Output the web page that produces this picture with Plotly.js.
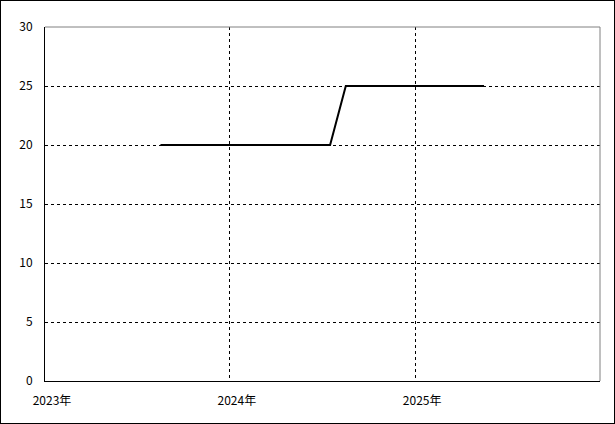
<!DOCTYPE html>
<html>
<head>
<meta charset="utf-8">
<script src="https://cdn.plot.ly/plotly-3.0.1.min.js"></script>
<style>
html,body{margin:0;padding:0;background:#fff;}
#wrap{position:relative;width:615px;height:424px;}
#chart{width:615px;height:424px;}
#frame{position:absolute;left:0;top:0;width:615px;height:424px;box-sizing:border-box;border:1px solid #000;pointer-events:none;}
</style>
</head>
<body>
<div id="wrap"><div id="chart"></div><div id="frame"></div></div>
<script>
var dates = ["2023-08-17","2024-07-17","2024-08-17","2025-05-17"];
var values = [20, 20, 25, 25];
var xTickVals = ["2023-01-01","2024-01-01","2025-01-01"];
var xTickText = ["2023年","2024年","2025年"];
var yTickVals = [0,5,10,15,20,25,30];

var font = {family: "'Noto Sans CJK JP', 'DejaVu Sans', sans-serif", size: 12, color: "#000"};

Plotly.newPlot("chart", [{
  x: dates, y: values, type: "scatter", mode: "lines",
  line: {color: "#000", width: 2}, hoverinfo: "skip"
}], {
  width: 615, height: 424,
  margin: {l: 45, r: 15, t: 27, b: 43, pad: 0},
  paper_bgcolor: "#fff", plot_bgcolor: "#fff",
  showlegend: false,
  font: font,
  xaxis: {
    type: "date", range: ["2023-01-01","2026-01-01"],
    tickmode: "array", tickvals: xTickVals, ticktext: xTickText,
    showgrid: true, gridcolor: "#000", gridwidth: 1, griddash: "3px,3px",
    showline: true, linecolor: "#000", linewidth: 1,
    zeroline: false, ticks: "outside", ticklen: 9, tickcolor: "rgba(0,0,0,0)",
    ticklabelshift: 7, tickfont: font, fixedrange: true
  },
  yaxis: {
    range: [0, 30], tickmode: "array", tickvals: yTickVals,
    showgrid: true, gridcolor: "#000", gridwidth: 1, griddash: "3px,3px",
    showline: true, linecolor: "#000", linewidth: 1,
    zeroline: false, ticks: "outside", ticklen: 9, tickcolor: "rgba(0,0,0,0)",
    tickfont: font, fixedrange: true
  },
  shapes: [
    {type: "line", xref: "paper", yref: "paper", x0: 0, x1: 1, y0: 1, y1: 1, line: {color: "#808080", width: 1}},
    {type: "line", xref: "paper", yref: "paper", x0: 1, x1: 1, y0: 0, y1: 1, line: {color: "#808080", width: 1}}
  ]
}, {staticPlot: true});
</script>
</body>
</html>
